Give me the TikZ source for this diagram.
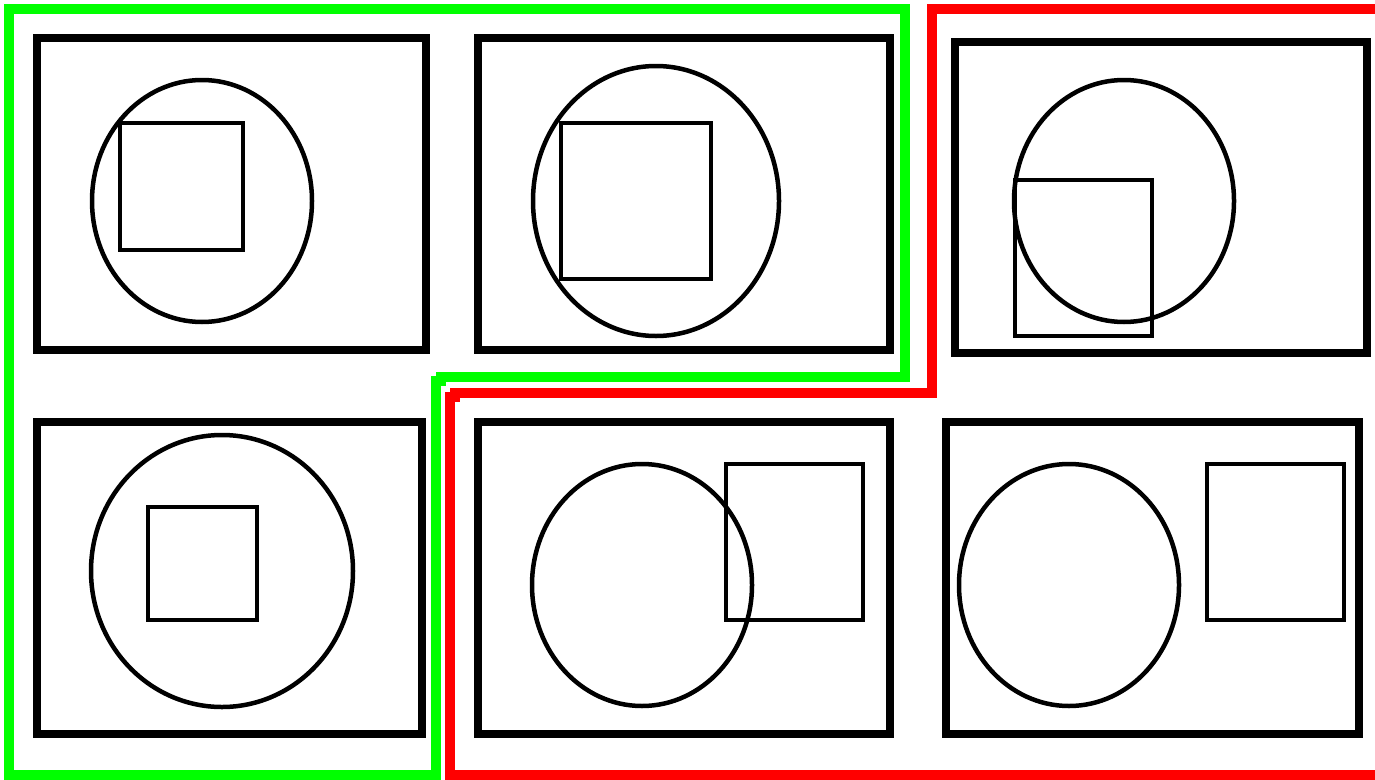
\documentclass[tikz,border=0pt]{standalone}
\begin{document}
\begin{tikzpicture}[x=1pt, y=-1pt,
  frame/.style={draw, line width=8pt},
  outline/.style={draw, line width=4.5pt},
  greenline/.style={draw=green, line width=10pt},
  redline/.style={draw=red, line width=10pt}]
  \useasboundingbox (0,0) rectangle (1375,779);
  % outer frames
  \foreach \xa/\ya/\xb/\yb in {37/38/426/350, 478/38/890/350, 955/42/1367/353,
                              37/422/422/734, 478/422/890/734, 946/422/1359/734} {
    \draw[frame] (\xa,\ya) rectangle (\xb,\yb);
  }
  % ellipses
  \foreach \cx/\cy/\rx/\ry in {202/201/110/121, 656/201/123/135, 1124/201/110/121,
                              222/571/131/136, 642/585/110/121, 1069/585/110/121} {
    \draw[outline] (\cx,\cy) ellipse [x radius=\rx, y radius=\ry];
  }
  % squares
  \foreach \xa/\ya/\xb/\yb in {120/123/243/250, 561/123/711/279, 1015/180/1152/336,
                              148/507/257/620, 726/464/863/620, 1207/464/1344/620} {
    \draw[outline] (\xa,\ya) rectangle (\xb,\yb);
  }
  % groupings
  \draw[greenline] (9,9) -- (905,9) -- (905,377) -- (441,377) -- (441,381)
    -- (436,381) -- (436,775) -- (9,775) -- cycle;
  \draw[redline] (1385,9) -- (932,9) -- (932,393) -- (455,393) -- (455,397)
    -- (450,397) -- (450,775) -- (1385,775);
\end{tikzpicture}
\end{document}
